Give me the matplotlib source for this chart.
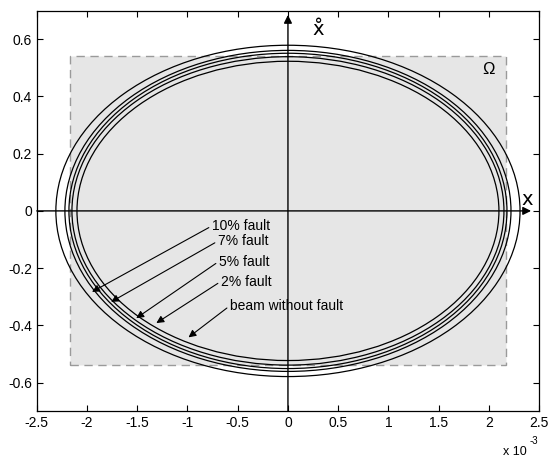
import numpy as np
import matplotlib
matplotlib.use("Agg")
import matplotlib.pyplot as plt
from matplotlib.patches import Ellipse, Rectangle

plt.rcParams["font.family"] = ["Liberation Sans", "DejaVu Sans"]

# semi-axes of each phase trajectory (x in units of 1e-3)
labels = ["beam without fault", "2% fault", "5% fault", "7% fault", "10% fault"]
rx = [2.10, 2.15, 2.18, 2.22, 2.31]
ry = [0.523, 0.539, 0.551, 0.561, 0.579]

# annotation text anchors and arrow heads (x in units of 1e-3)
text_x = [-0.58, -0.67, -0.69, -0.70, -0.76]
text_y = [-0.332, -0.247, -0.177, -0.106, -0.053]
head_x = [-0.99, -1.31, -1.51, -1.76, -1.95]
head_y = [-0.442, -0.392, -0.375, -0.318, -0.283]

# safe region Omega
omega_w = 2.17
omega_h = 0.54

xticks = [-2.5, -2, -1.5, -1, -0.5, 0, 0.5, 1, 1.5, 2, 2.5]
yticks = [-0.6, -0.4, -0.2, 0, 0.2, 0.4, 0.6]

fig = plt.figure(figsize=(5.49, 4.62), dpi=100)
ax = fig.add_axes([0.067, 0.110, 0.915, 0.867])

ax.add_patch(Rectangle((-omega_w, -omega_h), 2 * omega_w, 2 * omega_h,
                       facecolor="#e6e6e6", edgecolor="#9a9a9a",
                       linestyle=(0, (6, 4)), linewidth=1.0, zorder=0))

for a, b in zip(rx, ry):
    ax.add_patch(Ellipse((0, 0), 2 * a, 2 * b, fill=False,
                         edgecolor="black", linewidth=0.9, zorder=2))

# phase-plane axes with arrows
ax.annotate("", xy=(0, 0.685), xytext=(0, -0.7),
            arrowprops=dict(arrowstyle="-|>", color="black", lw=1.0,
                            mutation_scale=12, shrinkA=0, shrinkB=0), zorder=3)
ax.annotate("", xy=(2.42, 0), xytext=(-2.5, 0),
            arrowprops=dict(arrowstyle="-|>", color="black", lw=1.0,
                            mutation_scale=12, shrinkA=0, shrinkB=0), zorder=3)

ax.text(0.30, 0.635, "x\u030a", fontsize=14, ha="center", va="center",
        family=["DejaVu Sans"])
ax.text(2.38, 0.04, "x", fontsize=14, ha="center", va="center",
        family=["DejaVu Sans"])
ax.text(2.0, 0.495, "\u03a9", fontsize=12, ha="center", va="center")

for lab, tx, ty, hx, hy in zip(labels, text_x, text_y, head_x, head_y):
    ax.annotate(lab, xy=(hx, hy), xytext=(tx, ty), fontsize=10,
                ha="left", va="center",
                arrowprops=dict(arrowstyle="-|>", color="black", lw=0.8,
                                mutation_scale=11, shrinkA=0, shrinkB=0,
                                relpos=(0, 0.5)))

ax.set_xlim(-2.5, 2.5)
ax.set_ylim(-0.7, 0.7)
ax.set_xticks(xticks)
ax.set_xticklabels([f"{v:g}" for v in xticks])
ax.set_yticks(yticks)
ax.set_yticklabels([f"{v:g}" for v in yticks])
ax.tick_params(direction="in", top=True, right=True, length=4,
               labelsize=10, width=0.8)
for s in ax.spines.values():
    s.set_linewidth(0.9)

fig.text(0.938, 0.022, "x 10", fontsize=9, ha="center", va="center")
fig.text(0.972, 0.045, "-3", fontsize=7, ha="center", va="center")

fig.savefig("out.png", dpi=100)
